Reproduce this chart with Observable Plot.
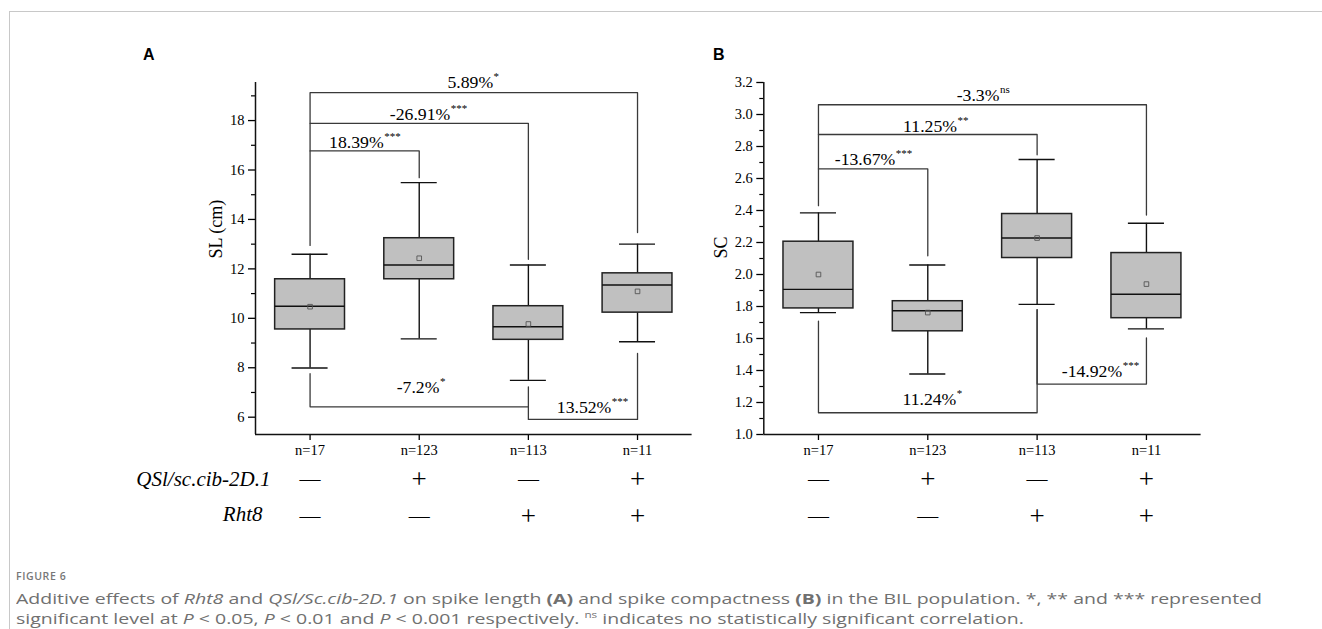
<!DOCTYPE html>
<html><head><meta charset="utf-8">
<script src="https://cdn.jsdelivr.net/npm/d3@7"></script>
<script src="https://cdn.jsdelivr.net/npm/@observablehq/plot@0.6"></script>
<style>
body{margin:0;background:#fff;}
#wrap{position:relative;width:1322px;height:629px;overflow:hidden;background:#fff;}
.border{position:absolute;left:9px;top:11px;right:-10px;bottom:-10px;border-top:1px solid #c8c8c8;border-left:1px solid #c8c8c8;}
.plotbox{position:absolute;top:0;}
.panel{position:absolute;font:bold 16px "Liberation Sans",Arial,sans-serif;color:#000;line-height:16px;}
#fig{position:absolute;left:16px;top:569px;font:600 10.5px "Open Sans",sans-serif;color:#777;letter-spacing:0.6px;line-height:14px;}
#cap{position:absolute;left:16px;top:588px;font:15px "Open Sans",sans-serif;color:#707070;line-height:20px;white-space:nowrap;transform-origin:0 0;}
#cap sup{font-size:9px;line-height:0;}
</style></head>
<body>
<div id="wrap">
  <div class="border"></div>
  <div class="panel" style="left:143px;top:47px">A</div>
  <div class="panel" style="left:713px;top:47px">B</div>
  <div class="plotbox" id="pa" style="left:0px"></div>
  <div class="plotbox" id="pb" style="left:700px"></div>
  <div id="fig">FIGURE 6</div>
  <div id="cap"><span id="l1">Additive effects of <i>Rht8</i> and <i>QSl/Sc.cib-2D.1</i> on spike length <b>(A)</b> and spike compactness <b>(B)</b> in the BIL population. *, ** and *** represented</span><br><span>significant level at <i>P</i> &lt; 0.05, <i>P</i> &lt; 0.01 and <i>P</i> &lt; 0.001 respectively. <sup>ns</sup> indicates no statistically significant correlation.</span></div>
</div>
<script>
// ---- categories / tick labels ----
const groups = ["n=17", "n=123", "n=113", "n=11"];
const qslSigns = ["—", "+", "—", "+"];
const rht8Signs = ["—", "—", "+", "+"];
const rowLabels = ["QSl/sc.cib-2D.1", "Rht8"];

// ---- Panel A: spike length (cm) ----
const slMin  = [7.99, 9.17, 7.49, 9.05];
const slQ1   = [9.55, 11.58, 9.13, 10.23];
const slMed  = [10.49, 12.16, 9.66, 11.35];
const slQ3   = [11.58, 13.24, 10.49, 11.82];
const slMax  = [12.59, 15.49, 12.16, 13.0];
const slMean = [10.47, 12.43, 9.77, 11.09];
const slTicks = [6, 8, 10, 12, 14, 16, 18];
const slMinor = [7, 9, 11, 13, 15, 17, 19];
// brackets
const slBrFrom  = [1, 1, 1, 1, 3];
const slBrTo    = [2, 3, 4, 3, 4];
const slBrLevel = [16.77, 17.89, 19.13, 6.42, 5.91];
const slBrStart = [16.77, 17.89, 12.95, 7.76, 7.23];
const slBrEnd   = [15.69, 12.39, 13.47, 6.42, 8.58];
const slBrLabel = ["18.39%", "-26.91%", "5.89%", "-7.2%", "13.52%"];
const slBrSig   = ["***", "***", "*", "*", "***"];
const slLabX    = [1.674, 2.284, 2.677, 2.185, 3.760];
const slLabY    = [16.91, 18.03, 19.30, 6.99, 6.18];

// ---- Panel B: spike compactness ----
const scMin  = [1.762, 1.378, 1.813, 1.66];
const scQ1   = [1.788, 1.645, 2.103, 1.727];
const scMed  = [1.907, 1.773, 2.228, 1.877];
const scQ3   = [2.205, 1.833, 2.378, 2.134];
const scMax  = [2.385, 2.059, 2.719, 2.32];
const scMean = [2.0, 1.762, 2.228, 1.94];
const scTicks = [1.0, 1.2, 1.4, 1.6, 1.8, 2.0, 2.2, 2.4, 2.6, 2.8, 3.0, 3.2];
const scMinor = [1.1, 1.3, 1.5, 1.7, 1.9, 2.1, 2.3, 2.5, 2.7, 2.9, 3.1];
const scBrFrom  = [1, 1, 1, 1, 3];
const scBrTo    = [2, 3, 4, 3, 4];
const scBrLevel = [2.66, 2.875, 3.061, 1.136, 1.315];
const scBrStart = [2.66, 2.875, 2.43, 1.708, 1.78];
const scBrEnd   = [2.117, 2.748, 2.372, 1.78, 1.603];
const scBrLabel = ["-13.67%", "11.25%", "-3.3%", "11.24%", "-14.92%"];
const scBrSig   = ["***", "**", "ns", "*", "***"];
const scLabX    = [1.702, 2.267, 2.655, 2.261, 3.778];
const scLabY    = [2.685, 2.890, 3.082, 1.182, 1.359];

const SERIF = '"Liberation Serif","Times New Roman",serif';
const BOX_HALF = 0.32, CAP_HALF = 0.165;

function panel(o) {
  const boxes = groups.map((g, i) => ({
    pos: i + 1, min: o.min[i], q1: o.q1[i], med: o.med[i], q3: o.q3[i], max: o.max[i], mean: o.mean[i],
    qsl: qslSigns[i], rht: rht8Signs[i]
  }));
  const brs = o.from.map((f, i) => ({id: i, from: f, to: o.to[i], level: o.level[i], start: o.start[i], end: o.end[i],
    label: o.label[i], sig: o.sig[i], lx: o.labX[i], ly: o.labY[i]}));
  const pts = brs.flatMap(b => [
    {id: b.id, x: b.from, y: b.start}, {id: b.id, x: b.from, y: b.level},
    {id: b.id, x: b.to, y: b.level}, {id: b.id, x: b.to, y: b.end}
  ]);
  const signSize = s => s === "+" ? 27 : 21;
  const marks = [
    // whiskers
    Plot.ruleX(boxes, {x: "pos", y1: "min", y2: "q1", stroke: "#111", strokeWidth: 1.4}),
    Plot.ruleX(boxes, {x: "pos", y1: "q3", y2: "max", stroke: "#111", strokeWidth: 1.4}),
    Plot.ruleY(boxes, {y: "min", x1: d => d.pos - CAP_HALF, x2: d => d.pos + CAP_HALF, stroke: "#111", strokeWidth: 1.4}),
    Plot.ruleY(boxes, {y: "max", x1: d => d.pos - CAP_HALF, x2: d => d.pos + CAP_HALF, stroke: "#111", strokeWidth: 1.4}),
    // boxes
    Plot.rect(boxes, {x1: d => d.pos - BOX_HALF, x2: d => d.pos + BOX_HALF, y1: "q1", y2: "q3", fill: "#c0c0c0", stroke: "#222", strokeWidth: 1.5}),
    Plot.ruleY(boxes, {y: "med", x1: d => d.pos - BOX_HALF, x2: d => d.pos + BOX_HALF, stroke: "#111", strokeWidth: 1.4}),
    Plot.dot(boxes, {x: "pos", y: "mean", symbol: "square", r: 2.6, stroke: "#555", strokeWidth: 0.9, fill: "none"}),
    // brackets
    Plot.line(pts, {x: "x", y: "y", z: "id", stroke: "#3a3a3a", strokeWidth: 1.3, curve: "linear"}),
    Plot.text(brs, {x: "lx", y: "ly", text: "label", textAnchor: "end", lineAnchor: "bottom", fontSize: 17.7, fill: "#000", fontFamily: SERIF}),
    Plot.text(brs, {x: "lx", y: "ly", text: "sig", textAnchor: "start", lineAnchor: "bottom", fontSize: 11, dy: -8, dx: 0.5, fill: "#000", fontFamily: SERIF}),
    // axes
    Plot.axisY(o.ticks, {anchor: "left", tickSize: 7, tickPadding: 4, tickFormat: o.fmt, fontSize: 14.5, strokeWidth: 1.3, label: null, fill: "#000", fontFamily: SERIF}),
    Plot.axisY(o.minor, {anchor: "left", tickSize: 4, tickFormat: () => "", strokeWidth: 1.2, label: null}),
    Plot.axisX([1, 2, 3, 4], {anchor: "bottom", tickSize: 6, tickPadding: 4, tickFormat: d => groups[d - 1], fontSize: 14.5, strokeWidth: 1.3, label: null, fill: "#000", fontFamily: SERIF}),
    Plot.ruleX([0.5], {stroke: "#111", strokeWidth: 1.5}),
    Plot.ruleY([o.domain[0]], {stroke: "#111", strokeWidth: 1.5}),
    Plot.text([o.yLabel], {frameAnchor: "left", dx: o.labelDx, rotate: -90, fontSize: 18, fill: "#000", fontFamily: SERIF}),
    // genotype rows
    Plot.text(boxes, {x: "pos", text: "qsl", frameAnchor: "bottom", dy: 45, lineAnchor: "middle", fontSize: d => signSize(d.qsl), fill: "#000", fontFamily: SERIF}),
    Plot.text(boxes, {x: "pos", text: "rht", frameAnchor: "bottom", dy: 82, lineAnchor: "middle", fontSize: d => signSize(d.rht), fill: "#000", fontFamily: SERIF})
  ];
  if (o.rowLabels) {
    marks.push(
      Plot.text([rowLabels[0]], {frameAnchor: "bottom-left", dx: 15, dy: 45, textAnchor: "end", lineAnchor: "middle", fontSize: 21, fontStyle: "italic", fill: "#000", fontFamily: SERIF}),
      Plot.text([rowLabels[1]], {frameAnchor: "bottom-left", dx: 7, dy: 80, textAnchor: "end", lineAnchor: "middle", fontSize: 21, fontStyle: "italic", fill: "#000", fontFamily: SERIF})
    );
  }
  return Plot.plot({
    width: o.width, height: 540,
    marginLeft: o.marginLeft, marginRight: 8.4, marginTop: 82, marginBottom: 106,
    style: {background: "transparent", overflow: "visible", fontFamily: SERIF, color: "#000", maxWidth: "none"},
    x: {type: "linear", domain: [0.5, 4.5], axis: null},
    y: {type: "linear", domain: o.domain, axis: null},
    marks
  });
}

document.getElementById("pa").append(panel({
  min: slMin, q1: slQ1, med: slMed, q3: slQ3, max: slMax, mean: slMean,
  domain: [5.30, 19.54], ticks: slTicks, minor: slMinor, fmt: d3.format("d"),
  from: slBrFrom, to: slBrTo, level: slBrLevel, start: slBrStart, end: slBrEnd,
  label: slBrLabel, sig: slBrSig, labX: slLabX, labY: slLabY,
  yLabel: "SL (cm)", labelDx: -39, width: 700, marginLeft: 255, rowLabels: true
}));
document.getElementById("pb").append(panel({
  min: scMin, q1: scQ1, med: scMed, q3: scQ3, max: scMax, mean: scMean,
  domain: [1.0, 3.2], ticks: scTicks, minor: scMinor, fmt: d3.format(".1f"),
  from: scBrFrom, to: scBrTo, level: scBrLevel, start: scBrStart, end: scBrEnd,
  label: scBrLabel, sig: scBrSig, labX: scLabX, labY: scLabY,
  yLabel: "SC", labelDx: -43, width: 509, marginLeft: 63.3, rowLabels: false
}));

// fit caption width to reference
const l1 = document.getElementById("l1");
const w = l1.getBoundingClientRect().width;
if (w > 0) document.getElementById("cap").style.transform = `scaleX(${1246 / w})`;
</script>
</body></html>
